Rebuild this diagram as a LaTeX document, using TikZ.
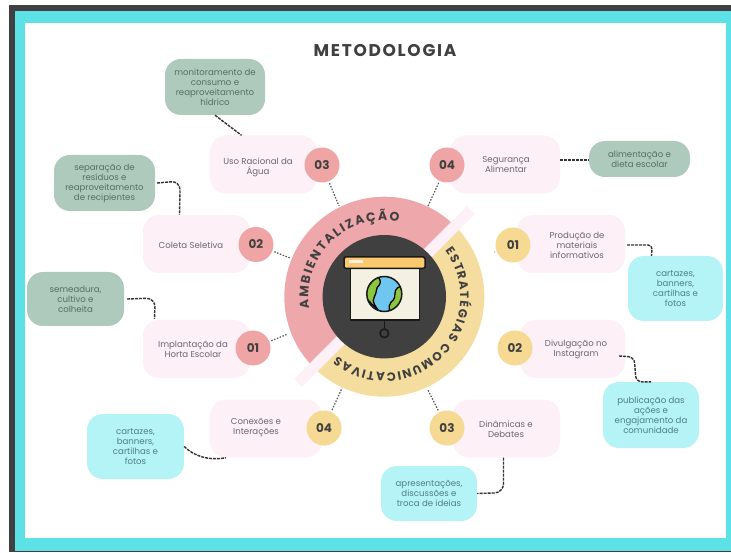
\documentclass[tikz,border=0pt]{standalone}
\usepackage{fontspec}
\setmainfont{Poppins}
\newfontfamily\titlefont[LetterSpace=10]{Poppins}
\usetikzlibrary{calc,decorations.text}
\definecolor{frameDark}{HTML}{404040}
\definecolor{frameCyan}{HTML}{5CE1E6}
\definecolor{paleBox}{HTML}{FDF1F7}
\definecolor{greenBox}{HTML}{AECABC}
\definecolor{cyanBox}{HTML}{B4F3F6}
\definecolor{ringPink}{HTML}{EEA8AB}
\definecolor{ringYellow}{HTML}{F5DD9F}
\definecolor{numPink}{HTML}{EFA5A5}
\definecolor{numYellow}{HTML}{F6DA94}
\definecolor{txtPale}{HTML}{6E6670}
\definecolor{txtGreen}{HTML}{55705F}
\definecolor{txtCyan}{HTML}{4F7F85}
\definecolor{iconPanel}{HTML}{F4F1E2}
\definecolor{iconBar}{HTML}{FDC96F}
\definecolor{iconSea}{HTML}{6FC6F0}
\definecolor{iconLand}{HTML}{8CC63F}
\tikzset{
  palebox/.style={fill=paleBox,rounded corners=16pt,minimum width=#1,minimum height=58pt,inner sep=0pt},
  paletext/.style={font=\fontsize{8.6}{10}\selectfont,text=txtPale,align=center,inner sep=0pt},
  greenbox/.style={fill=greenBox,rounded corners=16pt,font=\fontsize{8.6}{10}\selectfont,text=txtGreen,align=center,inner sep=0pt},
  cyanbox/.style={fill=cyanBox,rounded corners=16pt,font=\fontsize{8.6}{10}\selectfont,text=txtCyan,align=center,inner sep=0pt},
  numdot/.style={circle,minimum size=35pt,inner sep=0pt,font=\bfseries\fontsize{12}{12}\selectfont,text=frameDark},
  leader/.style={draw=black!80,line width=1.4pt,dash pattern=on 3pt off 1pt,rounded corners=9pt},
  spoke/.style={draw=black!65,line width=1.2pt,dash pattern=on 1.5pt off 1.5pt},
  iconline/.style={draw=black!90,line width=1.5pt,line join=round},
}
\newcommand{\ringfontA}{\bfseries\fontsize{12.5}{12.5}\selectfont\color{frameDark}}
\newcommand{\ringfontB}{\bfseries\fontsize{12}{12}\selectfont\color{frameDark}}
\begin{document}
\begin{tikzpicture}[x=1pt,y=1pt]
\useasboundingbox (0,0) rectangle (731,-553);
% frame
\fill[white] (0,0) rectangle (731,-553);
\fill[frameDark] (9,-5) rectangle (731,-552);
\fill[frameCyan] (15,-11) rectangle (731,-551);
\fill[white] (25,-23) rectangle (726,-538);
\node[font=\titlefont\bfseries\fontsize{17}{17}\selectfont,text=frameDark,inner sep=0pt] (title) at (385,-51) {METODOLOGIA};
% pale boxes
\node[palebox=107pt] (uso) at (263.5,-164.5) {};
\node[palebox=107pt] (col) at (196.5,-244) {};
\node[palebox=107pt] (imp) at (196.5,-349) {};
\node[palebox=112pt] (con) at (266,-428.5) {};
\node[palebox=110pt] (seg) at (505,-164.5) {};
\node[palebox=108pt] (pro) at (571,-244) {};
\node[palebox=105pt] (div) at (572.5,-349) {};
\node[palebox=107pt] (din) at (506.5,-428.5) {};
\node[paletext] (usot) at (258,-167) {Uso Racional da\\Água};
\node[paletext] (colt) at (191,-245) {Coleta Seletiva};
\node[paletext] (impt) at (193,-349) {Implantação da\\Horta Escolar};
\node[paletext] (cont) at (256,-428) {Conexões e\\Interações};
\node[paletext] (segt) at (506,-165) {Segurança\\Alimentar};
\node[paletext] (prot) at (577,-245) {Produção de\\materiais\\informativos};
\node[paletext] (divt) at (576,-349) {Divulgação no\\Instagram};
\node[paletext] (dint) at (506,-429) {Dinâmicas e\\Debates};
% detail boxes
\node[greenbox,minimum width=100pt,minimum height=56pt] (gmon) at (215,-87) {monitoramento de\\consumo e\\reaproveitamento\\hídrico};
\node[greenbox,minimum width=101pt,minimum height=56pt] (gsep) at (104.5,-183) {separação de\\resíduos e\\reaproveitamento\\de recipientes};
\node[greenbox,minimum width=97pt,minimum height=54pt] (gsem) at (75.5,-299) {semeadura,\\cultivo e\\colheita};
\node[greenbox,minimum width=101pt,minimum height=36pt] (gali) at (639.5,-159) {alimentação e\\dieta escolar};
\node[cyanbox,minimum width=95pt,minimum height=65pt] (ccar) at (675.5,-288.5) {cartazes,\\banners,\\cartilhas e\\fotos};
\node[cyanbox,minimum width=96pt,minimum height=66pt] (cpub) at (651,-415) {publicação das\\ações e\\engajamento da\\comunidade};
\node[cyanbox,minimum width=96pt,minimum height=55pt] (capr) at (429,-493.5) {apresentações,\\discussões e\\troca de ideias};
\node[cyanbox,minimum width=97pt,minimum height=65pt] (clef) at (135.5,-446.5) {cartazes,\\banners,\\cartilhas e\\fotos};
% leaders
\draw[leader] (gmon.south) -- ([xshift=-22pt]uso.north);
\draw[leader] ([xshift=2pt]gsep.east) -- ([xshift=25pt,yshift=2pt]gsep.east) -- ([xshift=-17pt]col.north);
\draw[leader] ([xshift=3pt]gsem.east) -- ([xshift=31pt,yshift=1pt]gsem.east) -- ([xshift=-42pt,yshift=1pt]imp.north);
\draw[leader,rounded corners=0pt] ([yshift=4.5pt]seg.east) -- ([yshift=-1pt]gali.west);
\draw[leader,rounded corners=4pt] ([yshift=-1pt,xshift=2pt]pro.east) -- ([xshift=27pt,yshift=-1pt]pro.east) -- ([xshift=-24pt]ccar.north);
\draw[leader,rounded corners=6pt] ([xshift=-6pt,yshift=-7pt]div.east) -- ([xshift=9pt,yshift=-8pt]div.east) -- ([xshift=-15pt]cpub.north) -- (cpub.north);
\draw[leader] ([xshift=-3pt]din.south) -- ([xshift=-3pt,yshift=-35pt]din.south) -- (capr.east);
\draw[leader,rounded corners=0pt] (clef.east) .. controls (194,-456) and (208,-461) .. ([xshift=-40pt]con.south);
% centre disc
\coordinate (hub) at (384.3,-296.7);
\fill[ringPink] (hub) -- ++(45:100) arc[start angle=45,end angle=225,radius=100] -- cycle;
\fill[ringYellow] (hub) -- ++(45:100) arc[start angle=45,end angle=-135,radius=100] -- cycle;
\fill[paleBox,rotate around={45:(hub)}] ($(hub)+(-122,-5.5)$) rectangle ($(hub)+(122,5.5)$);
\path[decorate,decoration={text along path,text align=fit to path,text={|\ringfontA|AMBIENTALIZAÇÃO}}]
  ($(hub)+(189:76)$) arc[start angle=189,end angle=79,radius=76];
\path[decorate,decoration={text along path,text align=fit to path,text={|\ringfontB|ESTRATÉGIAS COMUNICATIVAS}}]
  ($(hub)+(37:76)$) arc[start angle=37,end angle=-128,radius=76];
\fill[frameDark] (hub) circle[radius=61.7];
% projector icon
\draw[iconline,fill=iconPanel] (350.7,-268) rectangle (419.3,-320);
\draw[iconline,rounded corners=1.5pt,fill=iconBar] (344,-257) rectangle (425,-268.5);
\fill[iconPanel] (349,-260.5) rectangle (363,-263);
\coordinate (globe) at (384.3,-294);
\fill[iconSea] (globe) circle[radius=17.5];
\begin{scope}
\clip (globe) circle[radius=17.5];
\draw[line width=1.3pt,draw=black,fill=iconLand]
  ($(globe)+(-4,-19)$) .. controls ($(globe)+(-9,-12)$) and ($(globe)+(-13,-8)$) .. ($(globe)+(-10,-3)$)
  .. controls ($(globe)+(-7,2)$) and ($(globe)+(-9,6)$) .. ($(globe)+(-5,9)$)
  .. controls ($(globe)+(-3,12)$) and ($(globe)+(-4,16)$) .. ($(globe)+(-8,18)$) -- ($(globe)+(-22,0)$) -- cycle;
\draw[line width=1.3pt,draw=black,fill=iconLand]
  ($(globe)+(7,-19)$) .. controls ($(globe)+(3,-14)$) and ($(globe)+(5,-9)$) .. ($(globe)+(9,-6)$)
  .. controls ($(globe)+(12,-3)$) and ($(globe)+(9,3)$) .. ($(globe)+(13,6)$)
  .. controls ($(globe)+(15,8)$) and ($(globe)+(17,8)$) .. ($(globe)+(20,6)$) -- ($(globe)+(22,-14)$) -- cycle;
\end{scope}
\draw[iconline] (globe) circle[radius=17.5];
\coordinate (stemtop) at (384.3,-320);
\coordinate (knob) at (384.3,-333.3);
\draw[iconline,fill=frameDark] (knob) circle[radius=4.3];
\draw[iconline] (stemtop) -- ([yshift=4.3pt]knob);
% ring anchor points
\coordinate (r1) at (339,-206);
\coordinate (r2) at (290,-258);
\coordinate (r3) at (288,-334);
\coordinate (r5) at (428,-206);
\coordinate (r6) at (495,-252);
\coordinate (r7) at (500,-343);
\coordinate (r8) at (428,-390);
\coordinate (r9) at (342,-388);
% numbers
\node[numdot,fill=numPink] (n3) at (322,-165) {03};
\node[numdot,fill=numPink] (n2) at (256,-244.5) {02};
\node[numdot,fill=numPink] (n1) at (253,-348) {01};
\node[numdot,fill=numYellow] (m4) at (324,-428) {04};
\node[numdot,fill=numPink] (p4) at (447,-165) {04};
\node[numdot,fill=numYellow] (y1) at (513,-245) {01};
\node[numdot,fill=numYellow] (y2) at (515,-348) {02};
\node[numdot,fill=numYellow] (y3) at (447,-428) {03};
\draw[spoke,shorten <=2pt] (n3) -- (r1);
\draw[spoke,shorten <=2pt] (n2) -- (r2);
\draw[spoke,shorten <=2pt] (n1) -- (r3);
\draw[spoke,shorten <=2pt] (m4) -- (r9);
\draw[spoke,shorten <=2pt] (p4) -- (r5);
\draw[spoke,shorten <=2pt] (y1) -- (r6);
\draw[spoke,shorten <=2pt] (y2) -- (r7);
\draw[spoke,shorten <=2pt] (y3) -- (r8);
\end{tikzpicture}
\end{document}
